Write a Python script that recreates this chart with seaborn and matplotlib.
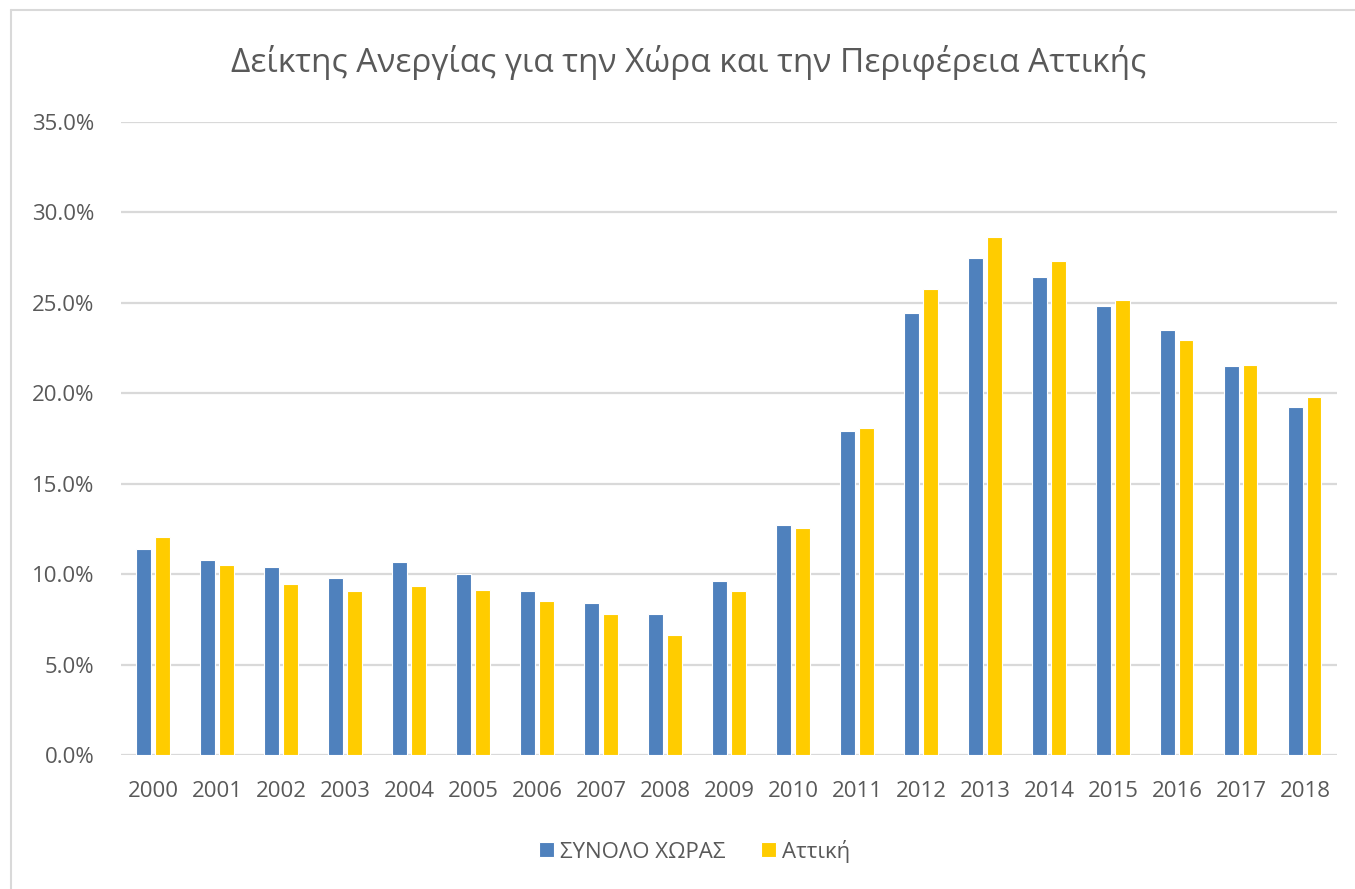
import matplotlib
matplotlib.use('Agg')
import matplotlib.pyplot as plt
import numpy as np
import pandas as pd
import seaborn as sns
from matplotlib.lines import Line2D
from matplotlib.ticker import PercentFormatter

years = [str(y) for y in range(2000, 2019)]
series_names = ['ΣΥΝΟΛΟ ΧΩΡΑΣ', 'Αττική']
country = [11.38, 10.81, 10.40, 9.78, 10.66, 10.02, 9.06, 8.41, 7.79, 9.61,
           12.71, 17.92, 24.44, 27.46, 26.43, 24.83, 23.50, 21.51, 19.26]
attica = [12.08, 10.50, 9.45, 9.06, 9.37, 9.13, 8.51, 7.79, 6.66, 9.06,
          12.54, 18.08, 25.78, 28.66, 27.29, 25.14, 22.93, 21.57, 19.82]
title = 'Δείκτης Ανεργίας για την Χώρα και την Περιφέρεια Αττικής'

df = pd.DataFrame({
    'year': years * 2,
    'series': [series_names[0]] * len(years) + [series_names[1]] * len(years),
    'rate': country + attica,
})

sns.set_theme(style='white')
plt.rcParams['font.family'] = ['Open Sans', 'DejaVu Sans']

text_col = '#595959'
grid_col = '#D9D9D9'

fig = plt.figure(figsize=(13.55, 8.89), dpi=100)
ax = fig.add_axes([0.0893, 0.1507, 0.8974, 0.7121])

sns.barplot(
    data=df, x='year', y='rate', hue='series',
    palette=['#4F81BD', '#FFCC00'], saturation=1,
    width=0.58, gap=0.22,
    edgecolor='white', linewidth=0.8,
    ax=ax, zorder=3,
)

ax.set_xlim(-0.5, len(years) - 0.5)
ax.set_ylim(0, 35)
ax.set_yticks(np.arange(0, 36, 5))
ax.yaxis.set_major_formatter(PercentFormatter(decimals=1))
ax.grid(axis='y', color=grid_col, linewidth=1.6, zorder=0)
ax.set_axisbelow(True)
for s in ax.spines.values():
    s.set_visible(False)
ax.set_xlabel('')
ax.set_ylabel('')
ax.tick_params(axis='y', length=0, pad=19, labelsize=16, labelcolor=text_col)
ax.tick_params(axis='x', length=0, pad=19, labelsize=16, labelcolor=text_col)

ax.legend(
    loc='upper center', bbox_to_anchor=(0.472, -0.102), ncol=2, frameon=False,
    fontsize=16, labelcolor=text_col, handlelength=0.65, handleheight=0.65,
    handletextpad=0.3, columnspacing=1.6,
)

fig.text(0.508, 0.93, title, ha='center', va='center', fontsize=24, color=text_col)

# chart border (left and top only visible)
fig.add_artist(Line2D([11 / 1355, 11 / 1355], [0, 1 - 10 / 889], color=grid_col,
                      linewidth=1.5, transform=fig.transFigure))
fig.add_artist(Line2D([11 / 1355, 1], [1 - 10 / 889, 1 - 10 / 889], color=grid_col,
                      linewidth=1.5, transform=fig.transFigure))

fig.savefig('out.png', dpi=100, facecolor='white')
